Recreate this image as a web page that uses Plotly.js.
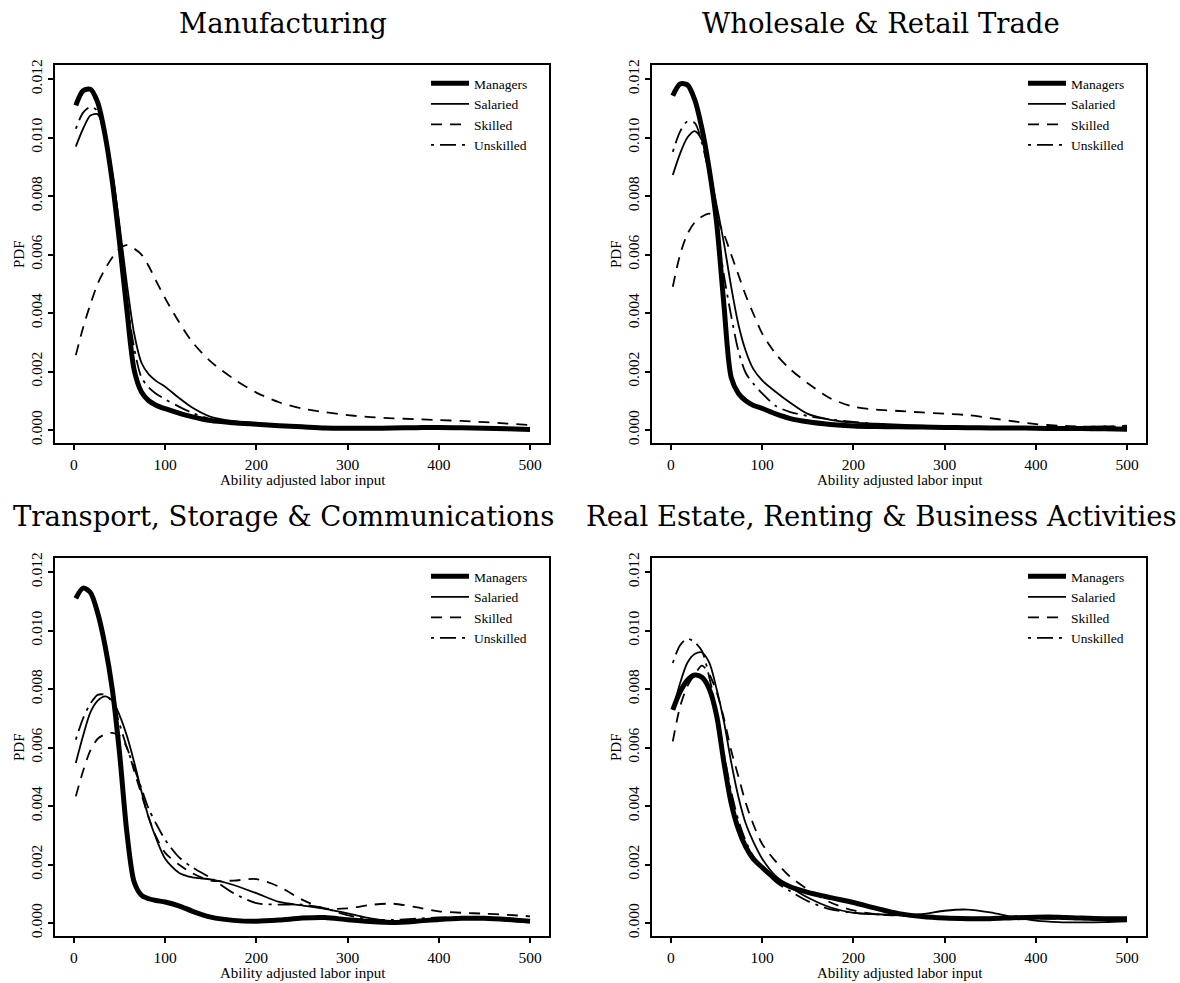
<!DOCTYPE html>
<html><head><meta charset="utf-8">
<script src="https://cdn.plot.ly/plotly-3.0.1.min.js"></script>
<style>html,body{margin:0;padding:0;background:#fff}#chart{width:1180px;height:983px}</style>
</head><body><div id="chart"></div>
<script>
// ---- data ----
const abilityGrid = [2,10,18,26,34,42,50,58,66,74,82,90,100,115,130,150,175,200,225,250,275,300,325,350,375,400,425,450,475,500];
const seriesNames = ['Managers','Salaried','Skilled','Unskilled'];
const panelTitles = ['Manufacturing','Wholesale & Retail Trade','Transport, Storage & Communications','Real Estate, Renting & Business Activities'];
const xTickValues = [0,100,200,300,400,500];
const yTickValues = [0,0.002,0.004,0.006,0.008,0.010,0.012];

const mfgManagers  = [0.01110,0.01160,0.01165,0.01120,0.01010,0.00850,0.00640,0.00410,0.00205,0.00130,0.00100,0.00085,0.00073,0.00058,0.00045,0.00032,0.00025,0.00020,0.00015,0.00011,0.00007,0.00006,0.00006,0.00007,0.00008,0.00009,0.00008,0.00006,0.00004,0.00002];
const mfgSalaried  = [0.00969,0.01030,0.01075,0.01080,0.01010,0.00880,0.00700,0.00500,0.00330,0.00230,0.00190,0.00168,0.00148,0.00110,0.00076,0.00045,0.00030,0.00023,0.00016,0.00011,0.00008,0.00006,0.00006,0.00007,0.00008,0.00009,0.00008,0.00006,0.00004,0.00002];
const mfgSkilled   = [0.00256,0.00350,0.00430,0.00500,0.00550,0.00590,0.00620,0.00632,0.00620,0.00600,0.00560,0.00510,0.00450,0.00370,0.00300,0.00234,0.00175,0.00128,0.00095,0.00074,0.00061,0.00051,0.00044,0.00040,0.00037,0.00034,0.00031,0.00027,0.00022,0.00017];
const mfgUnskilled = [0.01030,0.01085,0.01105,0.01090,0.01010,0.00860,0.00660,0.00450,0.00280,0.00180,0.00145,0.00124,0.00105,0.00080,0.00058,0.00037,0.00026,0.00020,0.00015,0.00011,0.00008,0.00006,0.00006,0.00007,0.00008,0.00009,0.00008,0.00006,0.00004,0.00002];

const wrtManagers  = [0.01143,0.01183,0.01180,0.01130,0.01030,0.00890,0.00710,0.00430,0.00180,0.00125,0.00100,0.00085,0.00074,0.00055,0.00040,0.00028,0.00019,0.00014,0.00012,0.00011,0.00010,0.00009,0.00008,0.00007,0.00007,0.00006,0.00005,0.00005,0.00004,0.00003];
const wrtSalaried  = [0.00872,0.00945,0.01000,0.01022,0.00990,0.00890,0.00770,0.00640,0.00490,0.00360,0.00270,0.00210,0.00170,0.00130,0.00095,0.00055,0.00035,0.00025,0.00022,0.00018,0.00015,0.00012,0.00010,0.00008,0.00007,0.00006,0.00005,0.00005,0.00004,0.00004];
const wrtSkilled   = [0.00490,0.00600,0.00670,0.00710,0.00730,0.00740,0.00720,0.00670,0.00600,0.00530,0.00460,0.00400,0.00330,0.00260,0.00210,0.00160,0.00108,0.00080,0.00070,0.00065,0.00060,0.00056,0.00051,0.00041,0.00030,0.00020,0.00015,0.00012,0.00012,0.00015];
const wrtUnskilled = [0.00951,0.01020,0.01055,0.01050,0.00980,0.00870,0.00700,0.00530,0.00390,0.00270,0.00195,0.00160,0.00125,0.00082,0.00062,0.00048,0.00036,0.00028,0.00020,0.00015,0.00012,0.00010,0.00009,0.00008,0.00009,0.00010,0.00010,0.00011,0.00012,0.00010];

const tscManagers  = [0.01110,0.01145,0.01130,0.01060,0.00950,0.00800,0.00580,0.00310,0.00140,0.00095,0.00083,0.00077,0.00072,0.00059,0.00040,0.00020,0.00009,0.00006,0.00010,0.00017,0.00019,0.00011,0.00005,0.00002,0.00006,0.00012,0.00016,0.00016,0.00012,0.00006];
const tscSalaried  = [0.00547,0.00640,0.00720,0.00760,0.00775,0.00760,0.00710,0.00640,0.00550,0.00450,0.00360,0.00290,0.00220,0.00172,0.00156,0.00149,0.00130,0.00102,0.00072,0.00060,0.00048,0.00033,0.00016,0.00006,0.00007,0.00010,0.00013,0.00013,0.00008,0.00003];
const tscSkilled   = [0.00433,0.00520,0.00590,0.00630,0.00645,0.00650,0.00640,0.00600,0.00520,0.00440,0.00360,0.00295,0.00240,0.00200,0.00170,0.00145,0.00145,0.00150,0.00124,0.00080,0.00050,0.00050,0.00062,0.00066,0.00054,0.00040,0.00035,0.00032,0.00028,0.00023];
const tscUnskilled = [0.00627,0.00700,0.00750,0.00780,0.00780,0.00755,0.00680,0.00600,0.00530,0.00460,0.00390,0.00340,0.00285,0.00225,0.00190,0.00154,0.00102,0.00068,0.00063,0.00063,0.00050,0.00027,0.00012,0.00011,0.00015,0.00019,0.00018,0.00015,0.00010,0.00005];

const rebManagers  = [0.00729,0.00790,0.00830,0.00848,0.00840,0.00800,0.00710,0.00550,0.00410,0.00320,0.00260,0.00220,0.00190,0.00150,0.00125,0.00105,0.00087,0.00070,0.00050,0.00032,0.00022,0.00017,0.00015,0.00015,0.00018,0.00020,0.00020,0.00017,0.00015,0.00015];
const rebSalaried  = [0.00729,0.00820,0.00890,0.00920,0.00925,0.00890,0.00800,0.00690,0.00550,0.00430,0.00340,0.00280,0.00220,0.00160,0.00125,0.00087,0.00053,0.00035,0.00030,0.00028,0.00030,0.00042,0.00046,0.00036,0.00020,0.00008,0.00003,0.00002,0.00003,0.00006];
const rebSkilled   = [0.00621,0.00740,0.00810,0.00850,0.00880,0.00850,0.00790,0.00700,0.00590,0.00500,0.00410,0.00340,0.00270,0.00210,0.00160,0.00115,0.00070,0.00043,0.00030,0.00025,0.00020,0.00018,0.00018,0.00018,0.00018,0.00018,0.00016,0.00013,0.00011,0.00010];
const rebUnskilled = [0.00889,0.00950,0.00972,0.00960,0.00930,0.00840,0.00720,0.00580,0.00450,0.00350,0.00280,0.00230,0.00190,0.00140,0.00110,0.00075,0.00047,0.00035,0.00030,0.00026,0.00022,0.00018,0.00016,0.00015,0.00015,0.00015,0.00014,0.00013,0.00012,0.00010];

const panelSeries = [
  [mfgManagers, mfgSalaried, mfgSkilled, mfgUnskilled],
  [wrtManagers, wrtSalaried, wrtSkilled, wrtUnskilled],
  [tscManagers, tscSalaried, tscSkilled, tscUnskilled],
  [rebManagers, rebSalaried, rebSkilled, rebUnskilled]
];

// ---- styling / layout ----
const W = 1180, H = 983;
const serif = 'Liberation Serif, Times New Roman, serif';
const titleFont = 'DejaVu Serif, serif';
const lineStyles = [
  {width: 5, dash: 'solid'},
  {width: 1.8, dash: 'solid'},
  {width: 1.8, dash: '11px,8px'},
  {width: 1.8, dash: '3px,6px,16px,6px'}
];
// pixel boxes of the plot frames [left, right, top, bottom]
const boxes = [[55,549,65,443],[652,1146,65,443],[55,549,558,936],[652,1146,558,936]];
const legendIds = ['legend','legend2','legend3','legend4'];

const traces = [];
panelSeries.forEach((series, p) => {
  const sfx = p === 0 ? '' : String(p + 1);
  series.forEach((vals, s) => {
    traces.push({
      type: 'scatter', mode: 'lines',
      x: abilityGrid, y: vals,
      name: seriesNames[s],
      xaxis: 'x' + sfx, yaxis: 'y' + sfx,
      legend: legendIds[p],
      line: {color: '#000', width: lineStyles[s].width, dash: lineStyles[s].dash, shape: 'spline', smoothing: 0.8},
      hoverinfo: 'skip'
    });
  });
});

const layout = {
  width: W, height: H,
  margin: {l: 0, r: 0, t: 0, b: 0},
  paper_bgcolor: '#fff', plot_bgcolor: '#fff',
  font: {family: serif, color: '#000', size: 15},
  annotations: []
};

boxes.forEach((b, p) => {
  const sfx = p === 0 ? '' : String(p + 1);
  layout['xaxis' + sfx] = {
    domain: [b[0] / W, b[1] / W],
    anchor: 'y' + sfx,
    range: [-20.8, 520.8],
    tickmode: 'array', tickvals: xTickValues, ticktext: xTickValues.map(String),
    ticks: 'outside', ticklen: 5, tickwidth: 2, tickcolor: '#000',
    ticklabelstandoff: 1,
    showline: true, linewidth: 2, linecolor: '#000', mirror: true,
    showgrid: false, zeroline: false,
    tickfont: {family: serif, size: 15.5, color: '#000'},
    fixedrange: true
  };
  layout['yaxis' + sfx] = {
    domain: [1 - b[3] / H, 1 - b[2] / H],
    anchor: 'x' + sfx,
    range: [-0.000444, 0.01248],
    tickmode: 'array', tickvals: yTickValues, ticktext: yTickValues.map(v => v.toFixed(3)),
    tickangle: -90,
    ticks: 'outside', ticklen: 5, tickwidth: 2, tickcolor: '#000',
    showline: true, linewidth: 2, linecolor: '#000', mirror: true,
    showgrid: false, zeroline: false,
    tickfont: {family: serif, size: 15.5, color: '#000'},
    fixedrange: true
  };
  layout[legendIds[p]] = {
    x: (b[0] + 371) / W, y: 1 - (b[2] + 3) / H,
    xanchor: 'left', yanchor: 'top',
    bgcolor: 'rgba(0,0,0,0)', borderwidth: 0,
    font: {family: serif, size: 13.5, color: '#000'},
    itemwidth: 38, tracegroupgap: 0
  };
  const cx = (b[0] + b[1]) / 2 + 1;
  // x-axis title
  layout.annotations.push({
    text: 'Ability adjusted labor input', xref: 'paper', yref: 'paper',
    x: cx / W, y: 1 - (b[3] + 37) / H, xanchor: 'center', yanchor: 'middle',
    showarrow: false, font: {family: serif, size: 15, color: '#000'}
  });
  // y-axis title
  layout.annotations.push({
    text: 'PDF', xref: 'paper', yref: 'paper', textangle: -90,
    x: (b[0] - 36) / W, y: 1 - ((b[2] + b[3]) / 2) / H, xanchor: 'center', yanchor: 'middle',
    showarrow: false, font: {family: serif, size: 15, color: '#000'}
  });
});

const titleCenters = [[283, 23], [881, 23], [283, 516], [881, 516]];
panelTitles.forEach((t, p) => {
  layout.annotations.push({
    text: t, xref: 'paper', yref: 'paper',
    x: titleCenters[p][0] / W, y: 1 - titleCenters[p][1] / H,
    xanchor: 'center', yanchor: 'middle', showarrow: false,
    font: {family: titleFont, size: 27.5, color: '#000'}
  });
});

Plotly.newPlot('chart', traces, layout, {staticPlot: true, displayModeBar: false});
</script>
</body></html>
